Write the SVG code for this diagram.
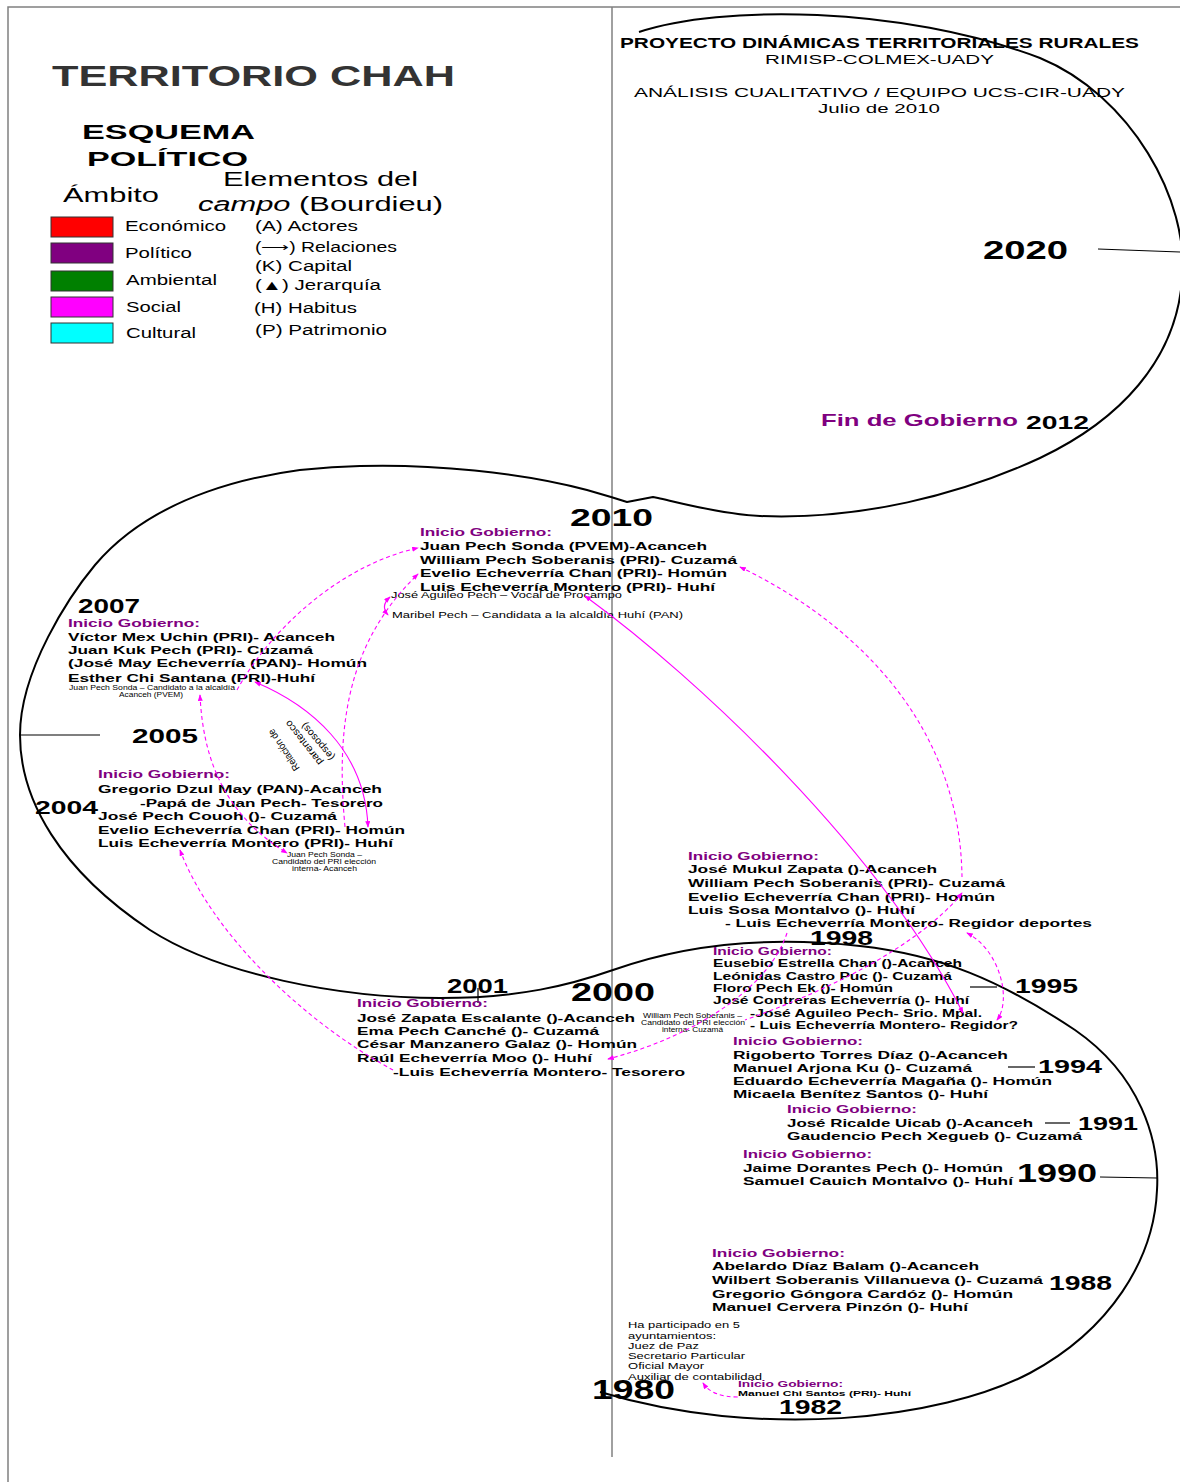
<svg xmlns="http://www.w3.org/2000/svg" width="1180" height="1482" viewBox="0 0 1180 1482">
<style>
text{font-family:"Liberation Sans",Arial,sans-serif;}
.b{font-weight:bold;fill:#000}
.n{font-weight:bold;font-size:11.5px;fill:#000}
.n2{font-weight:bold;font-size:10.5px;fill:#000}
.ig{font-weight:bold;font-size:11.5px;fill:#800080}
.ig2{font-weight:bold;font-size:10.5px;fill:#800080}
.sm{font-size:9px;fill:#000}
.tn{font-size:6.5px;fill:#000}
.lg{font-size:14px;fill:#000}
.fr{stroke:#808080;stroke-width:1.5;fill:none}
.sp{stroke:#000;stroke-width:2;fill:none;stroke-linejoin:round}
.tk{stroke:#000;stroke-width:1.2;fill:none}
.c{fill:none;stroke:#FF00FF;stroke-width:1.1}
.d{stroke-dasharray:4 3}
.box{stroke:#333;stroke-width:1}
</style>
<defs>
<marker id="ah" viewBox="0 0 8 6" refX="7" refY="3" markerWidth="7" markerHeight="5" markerUnits="userSpaceOnUse" orient="auto-start-reverse"><path d="M0,0 L8,3 L0,6 z" fill="#FF00FF"/></marker>
</defs>
<rect width="1180" height="1482" fill="#fff"/>
<g id="frame">
<path class="fr" d="M8,1482 L8,7 L1180,7"/>
<path class="fr" d="M612,7 L612,1457"/>
</g>
<g id="spiral">
<path class="sp" d="M639,32 C720,5 900,5 1040,58 C1130,95 1190,200 1182,280 C1176,360 1120,420 1040,458 C960,495 860,520 760,516 C720,514 680,503 658,498 L653,497 L627,502 L611,497 L587,490 C520,472 430,464 360,466 C250,468 150,500 95,565 C70,595 20,670 20,735 C20,800 60,870 150,930 C220,975 340,998 440,998 C520,998 570,985 613,970 C680,946 760,935 860,946 C940,955 1000,980 1075,1030 C1140,1075 1160,1140 1157,1190 C1154,1260 1110,1330 1030,1373 C940,1420 760,1440 600,1392"/>
<path class="tk" d="M1098,249 L1180,252"/>
<path class="tk" d="M20,735 L100,735"/>
<path class="tk" d="M478,988 L478,1003"/>
<path class="tk" d="M970,987 L997,987"/>
<path class="tk" d="M1008,1067 L1035,1067"/>
<path class="tk" d="M1045,1123 L1070,1123"/>
<path class="tk" d="M1100,1177 L1157,1178"/>
</g>
<g id="legend">
<text class="b" x="52" y="86" font-size="29" style="fill:#333" textLength="403" lengthAdjust="spacingAndGlyphs">TERRITORIO CHAH</text>
<text class="b" x="82" y="139" font-size="21" textLength="173" lengthAdjust="spacingAndGlyphs">ESQUEMA</text>
<text class="b" x="87" y="166" font-size="21" textLength="161" lengthAdjust="spacingAndGlyphs">POLÍTICO</text>
<text x="223" y="186" font-size="20" textLength="195" lengthAdjust="spacingAndGlyphs">Elementos del</text>
<text x="63" y="202" font-size="20" textLength="96" lengthAdjust="spacingAndGlyphs">Ámbito</text>
<text x="198" y="211" font-size="20" textLength="245" lengthAdjust="spacingAndGlyphs"><tspan font-style="italic">campo</tspan> (Bourdieu)</text>
<rect class="box" x="51" y="217" width="62" height="20" fill="#FF0000"/>
<rect class="box" x="51" y="243" width="62" height="20" fill="#800080"/>
<rect class="box" x="51" y="271" width="62" height="20" fill="#008000"/>
<rect class="box" x="51" y="297" width="62" height="20" fill="#FF00FF"/>
<rect class="box" x="51" y="323" width="62" height="20" fill="#00FFFF"/>
<text class="lg" x="125" y="231" textLength="101" lengthAdjust="spacingAndGlyphs">Económico</text>
<text class="lg" x="125" y="258" textLength="67" lengthAdjust="spacingAndGlyphs">Político</text>
<text class="lg" x="126" y="285" textLength="91" lengthAdjust="spacingAndGlyphs">Ambiental</text>
<text class="lg" x="126" y="312" textLength="55" lengthAdjust="spacingAndGlyphs">Social</text>
<text class="lg" x="126" y="338" textLength="70" lengthAdjust="spacingAndGlyphs">Cultural</text>
<text class="lg" x="255" y="231" textLength="103" lengthAdjust="spacingAndGlyphs">(A) Actores</text>
<text class="lg" x="255" y="252" textLength="142" lengthAdjust="spacingAndGlyphs">(⟶) Relaciones</text>
<text class="lg" x="255" y="271" textLength="97" lengthAdjust="spacingAndGlyphs">(K) Capital</text>
<text class="lg" x="255" y="290" textLength="126" lengthAdjust="spacingAndGlyphs">(▲) Jerarquía</text>
<text class="lg" x="254" y="313" textLength="103" lengthAdjust="spacingAndGlyphs">(H) Habitus</text>
<text class="lg" x="255" y="335" textLength="132" lengthAdjust="spacingAndGlyphs">(P) Patrimonio</text>
</g>
<g id="header">
<text class="b" x="620" y="48" font-size="14" textLength="519" lengthAdjust="spacingAndGlyphs">PROYECTO DINÁMICAS TERRITORIALES RURALES</text>
<text x="765" y="64" font-size="13" textLength="229" lengthAdjust="spacingAndGlyphs">RIMISP-COLMEX-UADY</text>
<text x="634" y="97" font-size="13.5" textLength="491" lengthAdjust="spacingAndGlyphs">ANÁLISIS CUALITATIVO / EQUIPO UCS-CIR-UADY</text>
<text x="818" y="113" font-size="13.5" textLength="122" lengthAdjust="spacingAndGlyphs">Julio de 2010</text>
</g>
<g id="y2020">
<text class="b" x="983" y="259" font-size="26" textLength="85" lengthAdjust="spacingAndGlyphs">2020</text>
</g>
<g id="y2012">
<text class="b" x="821" y="426" font-size="17" style="fill:#800080" textLength="197" lengthAdjust="spacingAndGlyphs">Fin de Gobierno</text>
<text class="b" x="1026" y="429" font-size="19" textLength="63" lengthAdjust="spacingAndGlyphs">2012</text>
</g>
<g id="y2010">
<text class="b" x="570" y="526" font-size="24" textLength="83" lengthAdjust="spacingAndGlyphs">2010</text>
<text class="ig" x="420" y="536" textLength="132" lengthAdjust="spacingAndGlyphs">Inicio Gobierno:</text>
<text class="n" x="420" y="550" textLength="287" lengthAdjust="spacingAndGlyphs">Juan Pech Sonda (PVEM)-Acanceh</text>
<text class="n" x="420" y="564" textLength="317" lengthAdjust="spacingAndGlyphs">William Pech Soberanis (PRI)- Cuzamá</text>
<text class="n" x="420" y="577" textLength="307" lengthAdjust="spacingAndGlyphs">Evelio Echeverría Chan (PRI)- Homún</text>
<text class="n" x="420" y="591" textLength="295" lengthAdjust="spacingAndGlyphs">Luis Echeverría Montero (PRI)- Huhí</text>
<text class="sm" x="391" y="598" textLength="231" lengthAdjust="spacingAndGlyphs">José Aguileo Pech – Vocal de Procampo</text>
<text class="sm" x="392" y="618" textLength="291" lengthAdjust="spacingAndGlyphs">Maribel Pech – Candidata a la alcaldía Huhí (PAN)</text>
</g>
<g id="y2007">
<text class="b" x="78" y="613" font-size="20" textLength="62" lengthAdjust="spacingAndGlyphs">2007</text>
<text class="ig" x="68" y="627" textLength="132" lengthAdjust="spacingAndGlyphs">Inicio Gobierno:</text>
<text class="n" x="68" y="641" textLength="267" lengthAdjust="spacingAndGlyphs">Víctor Mex Uchin (PRI)- Acanceh</text>
<text class="n" x="68" y="654" textLength="245" lengthAdjust="spacingAndGlyphs">Juan Kuk Pech (PRI)- Cuzamá</text>
<text class="n" x="68" y="667" textLength="299" lengthAdjust="spacingAndGlyphs">(José May Echeverría (PAN)- Homún</text>
<text class="n" x="68" y="682" textLength="247" lengthAdjust="spacingAndGlyphs">Esther Chi Santana (PRI)-Huhí</text>
<text class="tn" x="69" y="690" textLength="166" lengthAdjust="spacingAndGlyphs">Juan Pech Sonda – Candidato a la alcaldía</text>
<text class="tn" x="119" y="697" textLength="64" lengthAdjust="spacingAndGlyphs">Acanceh (PVEM)</text>
</g>
<g id="y2005">
<text class="b" x="132" y="743" font-size="21" textLength="66" lengthAdjust="spacingAndGlyphs">2005</text>
</g>
<g id="y2004">
<text class="b" x="35" y="814" font-size="19" textLength="63" lengthAdjust="spacingAndGlyphs">2004</text>
<text class="ig" x="98" y="778" textLength="132" lengthAdjust="spacingAndGlyphs">Inicio Gobierno:</text>
<text class="n" x="98" y="793" textLength="284" lengthAdjust="spacingAndGlyphs">Gregorio Dzul May (PAN)-Acanceh</text>
<text class="n" x="140" y="807" textLength="243" lengthAdjust="spacingAndGlyphs">-Papá de Juan Pech- Tesorero</text>
<text class="n" x="98" y="820" textLength="239" lengthAdjust="spacingAndGlyphs">José Pech Couoh ()- Cuzamá</text>
<text class="n" x="98" y="834" textLength="307" lengthAdjust="spacingAndGlyphs">Evelio Echeverría Chan (PRI)- Homún</text>
<text class="n" x="98" y="847" textLength="295" lengthAdjust="spacingAndGlyphs">Luis Echeverría Montero (PRI)- Huhí</text>
<text class="tn" x="287" y="857" textLength="75" lengthAdjust="spacingAndGlyphs">Juan Pech Sonda –</text>
<text class="tn" x="272" y="864" textLength="104" lengthAdjust="spacingAndGlyphs">Candidato del PRI elección</text>
<text class="tn" x="292" y="871" textLength="65" lengthAdjust="spacingAndGlyphs">interna- Acanceh</text>
</g>
<g id="relacion">
<text font-size="10" transform="translate(300,768) rotate(-124)" textLength="48" lengthAdjust="spacingAndGlyphs">Relación de</text>
<text font-size="10" transform="translate(323,762) rotate(-128)" textLength="54" lengthAdjust="spacingAndGlyphs">parentesco</text>
<text font-size="10" transform="translate(335,757) rotate(-130)" textLength="46" lengthAdjust="spacingAndGlyphs">(esposos)</text>
</g>
<g id="y1998">
<text class="ig" x="688" y="860" textLength="131" lengthAdjust="spacingAndGlyphs">Inicio Gobierno:</text>
<text class="n" x="688" y="873" textLength="249" lengthAdjust="spacingAndGlyphs">José Mukul Zapata ()-Acanceh</text>
<text class="n" x="688" y="887" textLength="317" lengthAdjust="spacingAndGlyphs">William Pech Soberanis (PRI)- Cuzamá</text>
<text class="n" x="688" y="901" textLength="307" lengthAdjust="spacingAndGlyphs">Evelio Echeverría Chan (PRI)- Homún</text>
<text class="n" x="688" y="914" textLength="227" lengthAdjust="spacingAndGlyphs">Luis Sosa Montalvo ()- Huhí</text>
<text class="n" x="725" y="927" textLength="367" lengthAdjust="spacingAndGlyphs">- Luis Echeverría Montero- Regidor deportes</text>
<text class="b" x="810" y="945" font-size="21" textLength="63" lengthAdjust="spacingAndGlyphs">1998</text>
</g>
<g id="y1995">
<text class="ig2" x="713" y="955" textLength="119" lengthAdjust="spacingAndGlyphs">Inicio Gobierno:</text>
<text class="n2" x="713" y="967" textLength="249" lengthAdjust="spacingAndGlyphs">Eusebio Estrella Chan ()-Acanceh</text>
<text class="n2" x="713" y="980" textLength="239" lengthAdjust="spacingAndGlyphs">Leónidas Castro Puc ()- Cuzamá</text>
<text class="n2" x="713" y="992" textLength="180" lengthAdjust="spacingAndGlyphs">Floro Pech Ek ()- Homún</text>
<text class="n2" x="713" y="1004" textLength="256" lengthAdjust="spacingAndGlyphs">José Contreras Echeverría ()- Huhí</text>
<text class="n2" x="750" y="1017" textLength="232" lengthAdjust="spacingAndGlyphs">-José Aguileo Pech- Srio. Mpal.</text>
<text class="n2" x="750" y="1029" textLength="268" lengthAdjust="spacingAndGlyphs">- Luis Echeverría Montero- Regidor?</text>
<text class="b" x="1015" y="993" font-size="21" textLength="63" lengthAdjust="spacingAndGlyphs">1995</text>
<text class="tn" x="643" y="1018" textLength="99" lengthAdjust="spacingAndGlyphs">William Pech Soberanis –</text>
<text class="tn" x="641" y="1025" textLength="104" lengthAdjust="spacingAndGlyphs">Candidato del PRI elección</text>
<text class="tn" x="662" y="1032" textLength="61" lengthAdjust="spacingAndGlyphs">interna- Cuzamá</text>
</g>
<g id="y2001">
<text class="b" x="447" y="993" font-size="20" textLength="61" lengthAdjust="spacingAndGlyphs">2001</text>
<text class="ig" x="357" y="1007" textLength="131" lengthAdjust="spacingAndGlyphs">Inicio Gobierno:</text>
<text class="n" x="357" y="1022" textLength="278" lengthAdjust="spacingAndGlyphs">José Zapata Escalante ()-Acanceh</text>
<text class="n" x="357" y="1035" textLength="242" lengthAdjust="spacingAndGlyphs">Ema Pech Canché ()- Cuzamá</text>
<text class="n" x="357" y="1048" textLength="280" lengthAdjust="spacingAndGlyphs">César Manzanero Galaz ()- Homún</text>
<text class="n" x="357" y="1062" textLength="235" lengthAdjust="spacingAndGlyphs">Raúl Echeverría Moo ()- Huhí</text>
<text class="n" x="393" y="1076" textLength="292" lengthAdjust="spacingAndGlyphs">-Luis Echeverría Montero- Tesorero</text>
</g>
<g id="y2000">
<text class="b" x="571" y="1001" font-size="25" textLength="84" lengthAdjust="spacingAndGlyphs">2000</text>
</g>
<g id="y1994">
<text class="ig" x="733" y="1045" textLength="130" lengthAdjust="spacingAndGlyphs">Inicio Gobierno:</text>
<text class="n" x="733" y="1059" textLength="275" lengthAdjust="spacingAndGlyphs">Rigoberto Torres Díaz ()-Acanceh</text>
<text class="n" x="733" y="1072" textLength="239" lengthAdjust="spacingAndGlyphs">Manuel Arjona Ku ()- Cuzamá</text>
<text class="n" x="733" y="1085" textLength="319" lengthAdjust="spacingAndGlyphs">Eduardo Echeverría Magaña ()- Homún</text>
<text class="n" x="733" y="1098" textLength="255" lengthAdjust="spacingAndGlyphs">Micaela Benítez Santos ()- Huhí</text>
<text class="b" x="1038" y="1073" font-size="19" textLength="64" lengthAdjust="spacingAndGlyphs">1994</text>
</g>
<g id="y1991">
<text class="ig" x="787" y="1113" textLength="130" lengthAdjust="spacingAndGlyphs">Inicio Gobierno:</text>
<text class="n" x="787" y="1127" textLength="246" lengthAdjust="spacingAndGlyphs">José Ricalde Uicab ()-Acanceh</text>
<text class="n" x="787" y="1140" textLength="295" lengthAdjust="spacingAndGlyphs">Gaudencio Pech Xegueb ()- Cuzamá</text>
<text class="b" x="1078" y="1130" font-size="19" textLength="60" lengthAdjust="spacingAndGlyphs">1991</text>
</g>
<g id="y1990">
<text class="ig" x="743" y="1158" textLength="129" lengthAdjust="spacingAndGlyphs">Inicio Gobierno:</text>
<text class="n" x="743" y="1172" textLength="260" lengthAdjust="spacingAndGlyphs">Jaime Dorantes Pech ()- Homún</text>
<text class="n" x="743" y="1185" textLength="270" lengthAdjust="spacingAndGlyphs">Samuel Cauich Montalvo ()- Huhí</text>
<text class="b" x="1017" y="1182" font-size="25" textLength="80" lengthAdjust="spacingAndGlyphs">1990</text>
</g>
<g id="y1988">
<text class="ig" x="712" y="1257" textLength="133" lengthAdjust="spacingAndGlyphs">Inicio Gobierno:</text>
<text class="n" x="712" y="1270" textLength="267" lengthAdjust="spacingAndGlyphs">Abelardo Díaz Balam ()-Acanceh</text>
<text class="n" x="712" y="1284" textLength="331" lengthAdjust="spacingAndGlyphs">Wilbert Soberanis Villanueva ()- Cuzamá</text>
<text class="n" x="712" y="1298" textLength="301" lengthAdjust="spacingAndGlyphs">Gregorio Góngora Cardóz ()- Homún</text>
<text class="n" x="712" y="1311" textLength="256" lengthAdjust="spacingAndGlyphs">Manuel Cervera Pinzón ()- Huhí</text>
<text class="b" x="1049" y="1290" font-size="20" textLength="63" lengthAdjust="spacingAndGlyphs">1988</text>
</g>
<g id="ayuntamientos">
<text class="sm" x="628" y="1328" textLength="112" lengthAdjust="spacingAndGlyphs">Ha participado en 5</text>
<text class="sm" x="628" y="1339" textLength="88" lengthAdjust="spacingAndGlyphs">ayuntamientos:</text>
<text class="sm" x="628" y="1349" textLength="71" lengthAdjust="spacingAndGlyphs">Juez de Paz</text>
<text class="sm" x="628" y="1359" textLength="117" lengthAdjust="spacingAndGlyphs">Secretario Particular</text>
<text class="sm" x="628" y="1369" textLength="76" lengthAdjust="spacingAndGlyphs">Oficial Mayor</text>
<text class="sm" x="628" y="1380" textLength="134" lengthAdjust="spacingAndGlyphs">Auxiliar de contabilidad</text>
</g>
<g id="y1982">
<text class="b" x="738" y="1387" font-size="9.5" style="fill:#800080" textLength="105" lengthAdjust="spacingAndGlyphs">Inicio Gobierno:</text>
<text class="b" x="738" y="1396" font-size="8" textLength="173" lengthAdjust="spacingAndGlyphs">Manuel Chi Santos (PRI)- Huhí</text>
<text class="b" x="779" y="1414" font-size="20" textLength="63" lengthAdjust="spacingAndGlyphs">1982</text>
</g>
<g id="y1980">
<text class="b" x="592" y="1399" font-size="27" textLength="83" lengthAdjust="spacingAndGlyphs">1980</text>
</g>
<g id="connectors">
<path class="c d" d="M237,690 C270,630 340,565 418,548" marker-end="url(#ah)"/>
<path class="c d" d="M200,695 C203,760 225,815 287,853" marker-start="url(#ah)" marker-end="url(#ah)"/>
<path class="c" d="M255,682 C310,705 365,750 368,827" marker-start="url(#ah)" marker-end="url(#ah)"/>
<path class="c d" d="M345,827 C335,720 350,640 418,574" marker-end="url(#ah)"/>
<path class="c" d="M390,597 Q380,606 388,615" marker-start="url(#ah)" marker-end="url(#ah)"/>
<path class="c" d="M585,596 C700,680 880,850 963,1013" marker-start="url(#ah)" marker-end="url(#ah)"/>
<path class="c d" d="M740,567 C850,620 960,720 962,877" marker-start="url(#ah)"/>
<path class="c d" d="M962,893 C920,945 830,990 745,1020" marker-start="url(#ah)"/>
<path class="c d" d="M787,933 C770,985 700,1035 608,1059" marker-end="url(#ah)"/>
<path class="c d" d="M967,933 C1000,950 1012,1000 997,1020" marker-start="url(#ah)" marker-end="url(#ah)"/>
<path class="c d" d="M180,850 C210,930 300,1020 393,1070" marker-start="url(#ah)"/>
<path class="c d" d="M703,1383 Q712,1397 738,1397" marker-start="url(#ah)"/>
</g>
</svg>
